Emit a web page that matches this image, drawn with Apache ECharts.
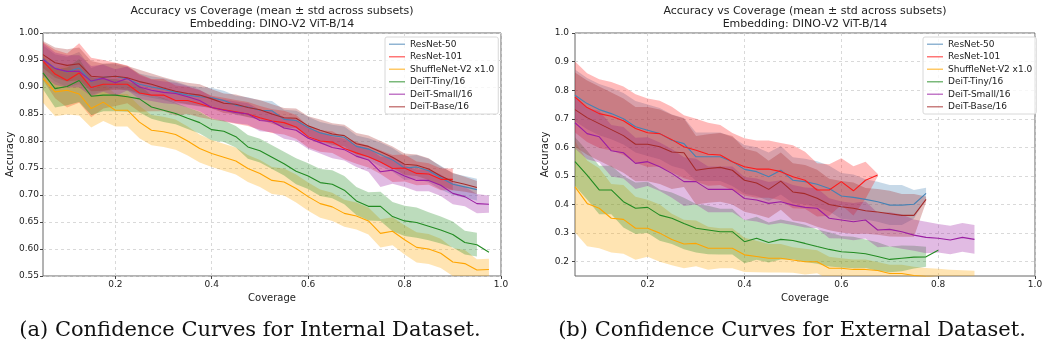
<!DOCTYPE html>
<html>
<head>
<meta charset="utf-8">
<title>Accuracy vs Coverage</title>
<script src="https://cdn.jsdelivr.net/npm/echarts@6/dist/echarts.min.js"></script>
<style>
  html, body { margin: 0; padding: 0; background: #fff; }
  #chart { width: 1047px; height: 350px; }
</style>
</head>
<body>
<div id="chart"></div>
<script>
// coverage levels (shared by both panels, each series uses the first N)
var coverage = [0.05, 0.075, 0.1, 0.125, 0.15, 0.175, 0.2, 0.225, 0.25, 0.275, 0.3, 0.325, 0.35, 0.375,
  0.4, 0.425, 0.45, 0.475, 0.5, 0.525, 0.55, 0.575, 0.6, 0.625, 0.65, 0.675, 0.7, 0.725, 0.75, 0.775,
  0.8, 0.825, 0.85, 0.875, 0.9, 0.925, 0.95, 0.975];

var models = ['ResNet-50', 'ResNet-101', 'ShuffleNet-V2 x1.0', 'DeiT-Tiny/16', 'DeiT-Small/16', 'DeiT-Base/16'];
var colors = ['#4682b4', '#ff1a1a', '#ffa500', '#228b22', '#9a1fa3', '#a52a2a'];

var xTicks = [0.2, 0.4, 0.6, 0.8, 1.0];
var yTicksLeft = [0.55, 0.6, 0.65, 0.7, 0.75, 0.8, 0.85, 0.9, 0.95, 1.0];
var yTicksRight = [0.2, 0.3, 0.4, 0.5, 0.6, 0.7, 0.8, 0.9, 1.0];

// ---- (a) internal dataset ----
var leftResNet50Mean = [0.952,0.935,0.928,0.935,0.91,0.918,0.92,0.915,0.905,0.9,0.896,0.89,0.885,0.882,0.88,0.875,0.866,0.863,0.857,0.856,0.84,0.838,0.825,0.815,0.81,0.807,0.79,0.785,0.775,0.765,0.75,0.752,0.745,0.732,0.72,0.715,0.71];
var leftResNet50Std = [0.025,0.025,0.028,0.03,0.025,0.025,0.022,0.022,0.02,0.02,0.02,0.02,0.018,0.018,0.018,0.018,0.018,0.018,0.018,0.018,0.018,0.018,0.02,0.02,0.02,0.02,0.02,0.02,0.022,0.022,0.022,0.022,0.022,0.022,0.02,0.02,0.02];
var leftResNet101Mean = [0.948,0.924,0.912,0.926,0.899,0.905,0.905,0.905,0.889,0.885,0.885,0.875,0.875,0.869,0.862,0.858,0.854,0.85,0.843,0.837,0.834,0.826,0.808,0.80,0.798,0.786,0.778,0.771,0.761,0.749,0.75,0.74,0.739,0.729,0.729];
var leftResNet101Std = [0.035,0.045,0.05,0.055,0.055,0.045,0.04,0.035,0.035,0.03,0.03,0.028,0.025,0.025,0.022,0.022,0.022,0.022,0.022,0.022,0.022,0.022,0.02,0.02,0.02,0.02,0.02,0.02,0.022,0.025,0.025,0.022,0.02,0.02,0.02];
var leftShuffleMean = [0.916,0.891,0.894,0.887,0.86,0.872,0.857,0.857,0.835,0.82,0.817,0.812,0.80,0.786,0.777,0.77,0.763,0.749,0.74,0.727,0.724,0.712,0.697,0.684,0.678,0.666,0.661,0.652,0.629,0.633,0.617,0.603,0.60,0.592,0.576,0.573,0.561,0.562];
var leftShuffleStd = [0.045,0.045,0.045,0.04,0.035,0.035,0.03,0.03,0.03,0.028,0.028,0.028,0.027,0.026,0.025,0.025,0.025,0.025,0.025,0.025,0.025,0.026,0.026,0.026,0.026,0.025,0.025,0.025,0.026,0.026,0.027,0.028,0.028,0.027,0.026,0.025,0.02,0.02];
var leftTinyMean = [0.926,0.897,0.901,0.912,0.883,0.885,0.885,0.882,0.878,0.863,0.857,0.851,0.842,0.834,0.821,0.818,0.808,0.789,0.782,0.77,0.758,0.744,0.735,0.723,0.72,0.709,0.689,0.679,0.679,0.66,0.652,0.649,0.642,0.635,0.627,0.612,0.608,0.594];
var leftTinyStd = [0.03,0.035,0.035,0.04,0.035,0.03,0.03,0.028,0.025,0.022,0.022,0.02,0.02,0.02,0.02,0.02,0.02,0.022,0.022,0.022,0.022,0.024,0.024,0.025,0.026,0.026,0.026,0.026,0.027,0.027,0.028,0.028,0.026,0.025,0.024,0.022,0.022,null];
var leftSmallMean = [0.951,0.934,0.929,0.929,0.911,0.916,0.908,0.916,0.90,0.894,0.89,0.888,0.882,0.875,0.862,0.857,0.853,0.85,0.838,0.836,0.824,0.82,0.805,0.797,0.788,0.784,0.772,0.765,0.743,0.746,0.735,0.727,0.727,0.718,0.703,0.697,0.684,0.683];
var leftSmallStd = [0.03,0.03,0.03,0.03,0.028,0.025,0.025,0.022,0.022,0.02,0.02,0.02,0.02,0.02,0.02,0.02,0.02,0.02,0.02,0.02,0.02,0.02,0.02,0.02,0.02,0.02,0.02,0.022,0.028,0.025,0.02,0.02,0.02,0.02,0.02,0.018,0.018,0.016];
var leftBaseMean = [0.96,0.945,0.94,0.943,0.92,0.918,0.92,0.917,0.91,0.905,0.898,0.892,0.888,0.885,0.878,0.87,0.868,0.862,0.858,0.85,0.843,0.842,0.828,0.82,0.813,0.81,0.795,0.79,0.78,0.77,0.757,0.755,0.748,0.735,0.725,0.72,0.714];
var leftBaseStd = [0.025,0.028,0.03,0.03,0.028,0.025,0.025,0.022,0.022,0.02,0.02,0.02,0.02,0.02,0.018,0.018,0.018,0.018,0.018,0.018,0.018,0.018,0.018,0.02,0.02,0.02,0.02,0.02,0.02,0.02,0.02,0.02,0.02,0.018,0.016,0.014,0.012];

// ---- (b) external dataset ----
var rightResNet50Mean = [0.782,0.753,0.732,0.718,0.70,0.672,0.66,0.648,0.625,0.613,0.567,0.567,0.567,0.55,0.523,0.515,0.497,0.52,0.485,0.48,0.471,0.456,0.43,0.425,0.418,0.41,0.398,0.398,0.401,0.439];
var rightResNet50Std = [0.09,0.09,0.09,0.09,0.09,0.09,0.09,0.09,0.09,0.09,0.085,0.085,0.085,0.085,0.085,0.085,0.085,0.085,0.08,0.08,0.08,0.08,0.08,0.08,0.07,0.07,0.07,0.07,0.05,0.02];
var rightResNet101Mean = [0.776,0.739,0.718,0.709,0.693,0.666,0.651,0.648,0.627,0.602,0.59,0.576,0.573,0.55,0.532,0.524,0.524,0.515,0.497,0.485,0.451,0.451,0.48,0.448,0.485,0.503];
var rightResNet101Std = [0.124,0.12,0.12,0.12,0.12,0.12,0.12,0.115,0.115,0.11,0.11,0.11,0.105,0.1,0.1,0.1,0.1,0.1,0.11,0.1,0.093,0.09,0.082,0.086,0.065,0.005];
var rightShuffleMean = [0.462,0.404,0.387,0.352,0.348,0.317,0.317,0.30,0.278,0.262,0.264,0.247,0.247,0.247,0.224,0.218,0.212,0.212,0.206,0.20,0.20,0.177,0.177,0.173,0.173,0.169,0.159,0.159,0.152,0.148,0.145,0.142,0.14,0.138];
var rightShuffleStd = [0.16,0.15,0.14,0.12,0.12,0.11,0.10,0.10,0.09,0.085,0.08,0.075,0.07,0.07,0.06,0.055,0.05,0.05,0.045,0.045,0.04,0.04,0.035,0.035,0.035,0.03,0.03,0.03,0.03,0.03,0.03,0.03,0.03,0.03];
var rightTinyMean = [0.55,0.503,0.451,0.451,0.41,0.387,0.39,0.363,0.352,0.334,0.317,0.311,0.305,0.305,0.27,0.282,0.267,0.278,0.274,0.264,0.253,0.243,0.235,0.232,0.228,0.218,0.208,0.212,0.216,0.217,0.24];
var rightTinyStd = [0.085,0.085,0.085,0.085,0.09,0.09,0.09,0.09,0.09,0.09,0.085,0.085,0.08,0.08,0.075,0.075,0.07,0.07,0.065,0.065,0.06,0.06,0.055,0.055,0.05,0.05,0.045,0.045,0.04,0.035,null];
var rightSmallMean = [0.686,0.648,0.637,0.588,0.581,0.544,0.55,0.532,0.509,0.48,0.48,0.453,0.453,0.453,0.421,0.416,0.404,0.41,0.398,0.39,0.387,0.352,0.346,0.34,0.346,0.311,0.313,0.305,0.293,0.285,0.282,0.276,0.285,0.278];
var rightSmallStd = [0.09,0.09,0.09,0.09,0.09,0.09,0.085,0.085,0.085,0.085,0.08,0.08,0.08,0.08,0.075,0.075,0.075,0.075,0.07,0.07,0.07,0.07,0.065,0.065,0.065,0.06,0.06,0.06,0.055,0.055,0.05,0.05,0.05,0.05];
var rightBaseMean = [0.732,0.704,0.683,0.662,0.641,0.611,0.611,0.602,0.584,0.581,0.52,0.526,0.53,0.52,0.485,0.475,0.453,0.482,0.444,0.438,0.422,0.40,0.392,0.387,0.378,0.374,0.368,0.362,0.362,0.418];
var rightBaseStd = [0.13,0.13,0.13,0.13,0.13,0.13,0.13,0.13,0.13,0.12,0.12,0.12,0.12,0.12,0.11,0.11,0.1,0.1,0.1,0.1,0.1,0.09,0.09,0.09,0.08,0.08,0.08,0.075,0.075,0.01];

var leftMeans = [leftResNet50Mean, leftResNet101Mean, leftShuffleMean, leftTinyMean, leftSmallMean, leftBaseMean];
var leftStds = [leftResNet50Std, leftResNet101Std, leftShuffleStd, leftTinyStd, leftSmallStd, leftBaseStd];
var rightMeans = [rightResNet50Mean, rightResNet101Mean, rightShuffleMean, rightTinyMean, rightSmallMean, rightBaseMean];
var rightStds = [rightResNet50Std, rightResNet101Std, rightShuffleStd, rightTinyStd, rightSmallStd, rightBaseStd];

var chart = echarts.init(document.getElementById('chart'), null, { renderer: 'canvas' });
var textColor = '#222';

// band polygon drawn once, through the axis scales
function bandRenderer(points, color) {
  return function (params, api) {
    if (params.dataIndex !== 0) return;
    var upper = points.map(function (p) { return api.coord([p[0], p[2]]); });
    var lower = points.map(function (p) { return api.coord([p[0], p[1]]); }).reverse();
    return {
      type: 'polygon',
      silent: true,
      shape: { points: upper.concat(lower) },
      style: { fill: color, opacity: 0.3 }
    };
  };
}

var series = [];
function buildPanel(p, means, stds) {
  models.forEach(function (name, m) {
    var mean = means[m], std = stds[m];
    var band = [], line = [];
    for (var i = 0; i < mean.length; i++) {
      line.push([coverage[i], mean[i]]);
      if (std[i] != null) band.push([coverage[i], mean[i] - std[i], mean[i] + std[i]]);
    }
    series.push({
      type: 'custom', name: name + ' std', xAxisIndex: p, yAxisIndex: p,
      clip: true, silent: true, z: 1,
      data: band, encode: { x: 0, y: [1, 2] },
      renderItem: bandRenderer(band, colors[m])
    });
    series.push({
      type: 'line', name: name, xAxisIndex: p, yAxisIndex: p,
      data: line, symbol: 'none', showSymbol: false, color: colors[m],
      lineStyle: { width: 1.1 }, z: 2, clip: true, silent: true
    });
  });
}
buildPanel(0, leftMeans, leftStds);
buildPanel(1, rightMeans, rightStds);

function xAxis(g) {
  return {
    type: 'value', gridIndex: g, min: 0.05, max: 1.0,
    name: 'Coverage', nameLocation: 'middle', nameGap: 15,
    nameTextStyle: { fontSize: 10, color: textColor },
    axisLine: { show: false },
    axisTick: { show: true, inside: false, length: 3, customValues: xTicks, lineStyle: { color: '#444' } },
    axisLabel: { customValues: xTicks, fontSize: 9, color: textColor, margin: 4,
      formatter: function (v) { return v.toFixed(1); } },
    splitLine: { show: true, lineStyle: { type: [3, 3], color: '#d0d0d0', width: 0.8 } }
  };
}
function yAxis(g, min, ticks, digits, gap, margin) {
  return {
    type: 'value', gridIndex: g, min: min, max: 1.0,
    name: 'Accuracy', nameLocation: 'middle', nameGap: gap, nameRotate: 90,
    nameTextStyle: { fontSize: 10, color: textColor },
    axisLine: { show: false },
    axisTick: { show: true, inside: false, length: 3, customValues: ticks, lineStyle: { color: '#444' } },
    axisLabel: { customValues: ticks, fontSize: 9, color: textColor, margin: margin,
      formatter: function (v) { return v.toFixed(digits); } },
    splitLine: { show: true, lineStyle: { type: [3, 3], color: '#d0d0d0', width: 0.8 } }
  };
}

function legend(left) {
  return {
    data: models, orient: 'vertical', left: left, top: 37,
    icon: 'rect', itemWidth: 16, itemHeight: 1.5, itemGap: 0,
    padding: [1, 4, 1, 4],
    borderColor: '#d8d8d8', borderWidth: 1, borderRadius: 2,
    backgroundColor: 'rgba(255,255,255,0.8)',
    itemStyle: { opacity: 0.6 },
    textStyle: { fontSize: 9, color: textColor, lineHeight: 12.5 },
    selectedMode: false
  };
}

var titleText = 'Accuracy vs Coverage (mean \u00b1 std across subsets)\nEmbedding: DINO-V2 ViT-B/14';

chart.setOption({
  animation: false,
  textStyle: { fontFamily: 'DejaVu Sans' },
  grid: [
    { left: 43, top: 33, width: 458, height: 243, show: true, borderColor: '#666', borderWidth: 1, backgroundColor: 'transparent' },
    { left: 575, top: 33, width: 460, height: 243, show: true, borderColor: '#666', borderWidth: 1, backgroundColor: 'transparent' }
  ],
  xAxis: [xAxis(0), xAxis(1)],
  yAxis: [yAxis(0, 0.55, yTicksLeft, 2, 28, 4), yAxis(1, 0.15, yTicksRight, 1, 22, 6)],
  legend: [legend(385), legend(923)],
  graphic: [
    { type: 'text', x: 272, y: 5, silent: true,
      style: { text: titleText, fill: textColor, font: '11px "DejaVu Sans"', align: 'center', lineHeight: 13 } },
    { type: 'text', x: 805, y: 5, silent: true,
      style: { text: titleText, fill: textColor, font: '11px "DejaVu Sans"', align: 'center', lineHeight: 13 } },
    { type: 'text', x: 250, y: 331, silent: true,
      style: { text: '(a) Confidence Curves for Internal Dataset.', fill: '#111', font: '21px "DejaVu Serif"', align: 'center', verticalAlign: 'middle' } },
    { type: 'text', x: 792, y: 331, silent: true,
      style: { text: '(b) Confidence Curves for External Dataset.', fill: '#111', font: '21px "DejaVu Serif"', align: 'center', verticalAlign: 'middle' } }
  ],
  series: series
});
</script>
</body>
</html>
